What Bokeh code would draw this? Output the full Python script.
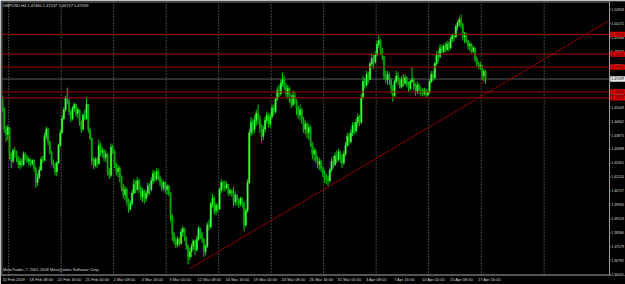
from bokeh.plotting import figure
from bokeh.models import Range1d, Span, Label, FixedTicker
from bokeh.core.properties import value
from bokeh.embed import file_html
from bokeh.resources import INLINE

# ---------------- data ----------------
symbol_title = "GBPUSD,H4 1.47460 1.47537 1.46757 1.47039"
copyright_text = "MetaTrader, \u00a9 2001-2008 MetaQuotes Software Corp."

first_open = 1.4600
closes = [
    1.4540, 1.4420, 1.4390, 1.4430, 1.4270, 1.4240, 1.4300, 1.4290, 1.4260, 1.4220,
    1.4240, 1.4220, 1.4280, 1.4265, 1.4240, 1.4250, 1.4225, 1.4245, 1.4200, 1.4120,
    1.4150, 1.4190, 1.4250, 1.4245, 1.4380, 1.4420, 1.4350, 1.4290, 1.4240, 1.4220,
    1.4180, 1.4230, 1.4330, 1.4400, 1.4480, 1.4530, 1.4600, 1.4580, 1.4520, 1.4480,
    1.4540, 1.4560, 1.4510, 1.4530, 1.4460, 1.4420, 1.4500, 1.4480, 1.4560, 1.4420,
    1.4370, 1.4240, 1.4215, 1.4250, 1.4225, 1.4330, 1.4290, 1.4300, 1.4260, 1.4280,
    1.4180, 1.4160, 1.4320, 1.4300, 1.4220, 1.4180, 1.4200, 1.4150, 1.4090, 1.4050,
    1.4080, 1.4010, 1.3970, 1.4000, 1.4060, 1.4110, 1.4080, 1.4130, 1.4090, 1.4040,
    1.4070, 1.4030, 1.4060, 1.4100, 1.4080, 1.4130, 1.4170, 1.4140, 1.4180, 1.4150,
    1.4120, 1.4090, 1.4120, 1.4080, 1.4100, 1.4060, 1.3930, 1.3830, 1.3790, 1.3770,
    1.3800, 1.3775, 1.3840, 1.3860, 1.3810, 1.3760, 1.3700, 1.3730, 1.3760, 1.3790,
    1.3740, 1.3800, 1.3860, 1.3830, 1.3800, 1.3730, 1.3760, 1.3880, 1.3870, 1.4000,
    1.4030, 1.3960, 1.3990, 1.3970, 1.4080, 1.4120, 1.4100, 1.4090, 1.4110, 1.4060,
    1.4075, 1.4055, 1.4010, 1.4050, 1.4020, 1.4000, 1.4030, 1.4005, 1.3880, 1.3960,
    1.4120, 1.4400, 1.4460, 1.4420, 1.4470, 1.4510, 1.4480, 1.4440, 1.4380, 1.4420,
    1.4470, 1.4500, 1.4450, 1.4490, 1.4540, 1.4520, 1.4590, 1.4640, 1.4620, 1.4680,
    1.4700, 1.4660, 1.4620, 1.4650, 1.4600, 1.4560, 1.4610, 1.4580, 1.4540, 1.4500,
    1.4530, 1.4480, 1.4420, 1.4450, 1.4400, 1.4430, 1.4340, 1.4280, 1.4300, 1.4250,
    1.4220, 1.4240, 1.4200, 1.4170, 1.4150, 1.4140, 1.4130, 1.4190, 1.4240, 1.4220,
    1.4270, 1.4250, 1.4290, 1.4270, 1.4230, 1.4280, 1.4330, 1.4380, 1.4350, 1.4400,
    1.4440, 1.4410, 1.4460, 1.4490, 1.4460, 1.4600, 1.4690, 1.4670, 1.4730, 1.4700,
    1.4790, 1.4820, 1.4800, 1.4840, 1.4900, 1.4920, 1.4860, 1.4830, 1.4720, 1.4700,
    1.4730, 1.4700, 1.4650, 1.4610, 1.4690, 1.4720, 1.4700, 1.4660, 1.4700, 1.4680,
    1.4710, 1.4670, 1.4650, 1.4690, 1.4700, 1.4660, 1.4630, 1.4670, 1.4640, 1.4630,
    1.4620, 1.4640, 1.4615, 1.4630, 1.4690, 1.4730, 1.4710, 1.4790, 1.4840, 1.4830,
    1.4880, 1.4860, 1.4890, 1.4870, 1.4900, 1.4880, 1.4930, 1.4950, 1.4940, 1.5000,
    1.5020, 1.5040, 1.5010, 1.4940, 1.4960, 1.4920, 1.4890, 1.4900, 1.4860, 1.4880,
    1.4820, 1.4790, 1.4770, 1.4780, 1.4720, 1.4746, 1.47039,
]
highs = [
    1.4610, 1.4545, 1.4440, 1.4445, 1.4430, 1.4290, 1.4310, 1.4320, 1.4300, 1.4270,
    1.4260, 1.4255, 1.4295, 1.4290, 1.4275, 1.4262, 1.4255, 1.4250, 1.4250, 1.4210,
    1.4170, 1.4210, 1.4265, 1.4270, 1.4400, 1.4435, 1.4430, 1.4355, 1.4300, 1.4250,
    1.4230, 1.4240, 1.4340, 1.4420, 1.4500, 1.4545, 1.4610, 1.4655, 1.4590, 1.4530,
    1.4550, 1.4570, 1.4565, 1.4545, 1.4530, 1.4470, 1.4510, 1.4530, 1.4597, 1.4560,
    1.4430, 1.4375, 1.4260, 1.4265, 1.4260, 1.4360, 1.4345, 1.4320, 1.4310, 1.4300,
    1.4285, 1.4200, 1.4340, 1.4335, 1.4305, 1.4230, 1.4220, 1.4210, 1.4160, 1.4110,
    1.4100, 1.4090, 1.4030, 1.4020, 1.4080, 1.4140, 1.4130, 1.4150, 1.4140, 1.4100,
    1.4090, 1.4080, 1.4075, 1.4120, 1.4115, 1.4150, 1.4190, 1.4185, 1.4200, 1.4195,
    1.4160, 1.4138, 1.4130, 1.4125, 1.4110, 1.4105, 1.4065, 1.3940, 1.3840, 1.3810,
    1.3815, 1.3810, 1.3860, 1.3875, 1.3865, 1.3815, 1.3770, 1.3750, 1.3775, 1.3800,
    1.3795, 1.3820, 1.3875, 1.3865, 1.3840, 1.3805, 1.3770, 1.3895, 1.3910, 1.4010,
    1.4054, 1.4040, 1.4005, 1.4000, 1.4090, 1.4138, 1.4130, 1.4130, 1.4125, 1.4110,
    1.4085, 1.4080, 1.4095, 1.4070, 1.4045, 1.4030, 1.4040, 1.4035, 1.4010, 1.3975,
    1.4138, 1.4420, 1.4490, 1.4480, 1.4500, 1.4530, 1.4560, 1.4500, 1.4450, 1.4440,
    1.4490, 1.4520, 1.4510, 1.4510, 1.4560, 1.4560, 1.4600, 1.4660, 1.4670, 1.4700,
    1.4740, 1.4720, 1.4680, 1.4670, 1.4660, 1.4620, 1.4640, 1.4630, 1.4590, 1.4550,
    1.4560, 1.4540, 1.4490, 1.4470, 1.4460, 1.4450, 1.4440, 1.4350, 1.4320, 1.4310,
    1.4270, 1.4260, 1.4250, 1.4210, 1.4190, 1.4170, 1.4160, 1.4200, 1.4260, 1.4270,
    1.4290, 1.4300, 1.4310, 1.4300, 1.4280, 1.4300, 1.4350, 1.4400, 1.4400, 1.4420,
    1.4460, 1.4460, 1.4480, 1.4510, 1.4500, 1.4620, 1.4720, 1.4710, 1.4750, 1.4745,
    1.4800, 1.4850, 1.4840, 1.4860, 1.4920, 1.4950, 1.4930, 1.4880, 1.4830, 1.4750,
    1.4750, 1.4740, 1.4710, 1.4670, 1.4700, 1.4750, 1.4740, 1.4710, 1.4720, 1.4730,
    1.4730, 1.4720, 1.4690, 1.4700, 1.4770, 1.4710, 1.4680, 1.4690, 1.4680, 1.4660,
    1.4650, 1.4655, 1.4650, 1.4645, 1.4700, 1.4750, 1.4750, 1.4800, 1.4860, 1.4866,
    1.4900, 1.4895, 1.4900, 1.4910, 1.4920, 1.4915, 1.4940, 1.4961, 1.4960, 1.5010,
    1.5034, 1.5055, 1.5068, 1.5020, 1.4970, 1.4965, 1.4925, 1.4915, 1.4905, 1.4890,
    1.4880, 1.4830, 1.4800, 1.4800, 1.4785, 1.4760, 1.47537,
]
lows = [
    1.4520, 1.4400, 1.4350, 1.4360, 1.4250, 1.4200, 1.4230, 1.4260, 1.4235, 1.4200,
    1.4195, 1.4205, 1.4215, 1.4245, 1.4230, 1.4215, 1.4210, 1.4215, 1.4180, 1.4090,
    1.4100, 1.4140, 1.4185, 1.4230, 1.4240, 1.4360, 1.4330, 1.4280, 1.4220, 1.4200,
    1.4160, 1.4155, 1.4225, 1.4320, 1.4395, 1.4470, 1.4520, 1.4560, 1.4500, 1.4460,
    1.4470, 1.4520, 1.4490, 1.4480, 1.4440, 1.4400, 1.4415, 1.4470, 1.4475, 1.4400,
    1.4360, 1.4220, 1.4195, 1.4205, 1.4200, 1.4220, 1.4270, 1.4260, 1.4240, 1.4235,
    1.4160, 1.4140, 1.4150, 1.4280, 1.4200, 1.4160, 1.4150, 1.4120, 1.4070, 1.4030,
    1.4020, 1.3990, 1.3950, 1.3960, 1.3990, 1.4050, 1.4060, 1.4070, 1.4060, 1.4020,
    1.4010, 1.4000, 1.4010, 1.4040, 1.4050, 1.4070, 1.4110, 1.4120, 1.4130, 1.4130,
    1.4100, 1.4070, 1.4075, 1.4060, 1.4050, 1.4043, 1.3900, 1.3790, 1.3770, 1.3750,
    1.3755, 1.3760, 1.3770, 1.3815, 1.3790, 1.3740, 1.3658, 1.3680, 1.3700, 1.3740,
    1.3710, 1.3730, 1.3790, 1.3800, 1.3780, 1.3700, 1.3710, 1.3750, 1.3850, 1.3860,
    1.3980, 1.3940, 1.3935, 1.3950, 1.3965, 1.4060, 1.4070, 1.4070, 1.4080, 1.4045,
    1.4045, 1.4040, 1.3985, 1.3990, 1.3990, 1.3975, 1.3985, 1.3980, 1.3845, 1.3870,
    1.3950, 1.4110, 1.4380, 1.4390, 1.4400, 1.4440, 1.4450, 1.4400, 1.4350, 1.4360,
    1.4400, 1.4450, 1.4430, 1.4430, 1.4480, 1.4500, 1.4510, 1.4580, 1.4600, 1.4610,
    1.4660, 1.4640, 1.4600, 1.4590, 1.4570, 1.4540, 1.4550, 1.4560, 1.4500, 1.4480,
    1.4470, 1.4450, 1.4400, 1.4390, 1.4370, 1.4360, 1.4320, 1.4250, 1.4240, 1.4230,
    1.4200, 1.4190, 1.4180, 1.4150, 1.4120, 1.4110, 1.4100, 1.4120, 1.4180, 1.4200,
    1.4210, 1.4230, 1.4240, 1.4230, 1.4200, 1.4220, 1.4270, 1.4320, 1.4330, 1.4340,
    1.4380, 1.4390, 1.4400, 1.4430, 1.4440, 1.4450, 1.4590, 1.4650, 1.4660, 1.4680,
    1.4700, 1.4770, 1.4760, 1.4790, 1.4830, 1.4880, 1.4840, 1.4810, 1.4700, 1.4680,
    1.4670, 1.4670, 1.4620, 1.4575, 1.4600, 1.4680, 1.4670, 1.4650, 1.4650, 1.4660,
    1.4670, 1.4660, 1.4630, 1.4640, 1.4680, 1.4640, 1.4610, 1.4620, 1.4620, 1.4610,
    1.4605, 1.4610, 1.4603, 1.4605, 1.4620, 1.4680, 1.4690, 1.4700, 1.4780, 1.4800,
    1.4820, 1.4850, 1.4850, 1.4855, 1.4860, 1.4860, 1.4870, 1.4910, 1.4915, 1.4935,
    1.4980, 1.5000, 1.4990, 1.4920, 1.4905, 1.4905, 1.4870, 1.4860, 1.4850, 1.4850,
    1.4800, 1.4775, 1.4760, 1.4755, 1.4700, 1.4690, 1.46757,
]

date_labels = ["10 Feb 2009", "18 Feb 08:00", "20 Feb 16:00", "25 Feb 00:00",
               "2 Mar 08:00", "4 Mar 16:00", "9 Mar 00:00", "12 Mar 08:00",
               "16 Mar 16:00", "19 Mar 00:00", "24 Mar 08:00", "26 Mar 16:00",
               "31 Mar 00:00", "3 Apr 08:00", "7 Apr 16:00", "10 Apr 00:00",
               "15 Apr 08:00", "17 Apr 16:00"]
date_label_bars = [0, 15.5, 31.5, 47.5, 63.5, 79.5, 95.5, 111.5, 127.5, 143.5,
                   159.5, 175.5, 191.5, 207.5, 223.5, 239.5, 255.5, 271.5]
grid_bars = [3.5, 33.5, 63.5, 93.5, 123.5, 153.5, 183.5, 213.5, 243.5, 273.5, 309.5]

price_ticks = [1.50958, 1.50171, 1.49384, 1.48597, 1.47810, 1.47023, 1.46236,
               1.45449, 1.44662, 1.43875, 1.43088, 1.42301, 1.41514, 1.40727,
               1.39940, 1.39153, 1.38366, 1.37579, 1.36792, 1.36005]

level_prices = [1.49558, 1.48438, 1.47710, 1.46310, 1.45974]
bid_price = 1.47039
trend_bars = [107, 347]
trend_prices = [1.3634, 1.5035]

# ---------------- derived ----------------
n = len(closes)
idx = list(range(n))
opens = [first_open] + closes[:-1]
tops = [max(o, c) for o, c in zip(opens, closes)]
bottoms = [min(o, c) for o, c in zip(opens, closes)]
wick_hi = [max(h, t) for h, t in zip(highs, tops)]
wick_lo = [min(l, b) for l, b in zip(lows, bottoms)]
up = [c >= o for o, c in zip(opens, closes)]

FONT = "Liberation Sans"
FS = "4px"
SCALE_FS = "3.5px"
TXT = "#d8d8d8"
GRAY = "#9a9a9a"

PX_PER_BAR = 1.75
X0 = -0.6
X1 = X0 + 624 / PX_PER_BAR          # frame spans the whole width
SCALE_BAR = X0 + 608 / PX_PER_BAR   # where the price scale begins
TEXT_BAR = SCALE_BAR + 1.0
Y0, Y1 = 1.3595, 1.5141

p = figure(width=625, height=284, output_backend="svg", toolbar_location=None,
           x_range=Range1d(X0, X1), y_range=Range1d(Y0, Y1),
           x_axis_location="below", y_axis_location=None,
           min_border_left=1, min_border_top=1, min_border_right=0, min_border_bottom=0,
           background_fill_color="#000000", border_fill_color="#000000",
           outline_line_color=None)
p.grid.visible = False

# vertical dotted grid
for g in grid_bars:
    p.add_layout(Span(location=g, dimension="height", line_color="#8a8a8a",
                      line_width=1, line_dash="1 2", level="underlay"))
# bid line
p.segment(x0=[X0], x1=[SCALE_BAR], y0=[bid_price], y1=[bid_price],
          line_color="#3c3c3c", line_width=1.5, level="underlay")

# candles
p.segment(x0=idx, y0=wick_lo, x1=idx, y1=wick_hi, line_color="#00d000", line_width=1)
up_i = [i for i in idx if up[i]]
dn_i = [i for i in idx if not up[i]]
p.vbar(x=up_i, width=0.72, top=[tops[i] for i in up_i], bottom=[bottoms[i] for i in up_i],
       fill_color="#44ff44", line_color="#44ff44", line_width=0.5)
p.vbar(x=dn_i, width=0.72, top=[tops[i] for i in dn_i], bottom=[bottoms[i] for i in dn_i],
       fill_color="#00aa00", line_color="#00aa00", line_width=0.5)

# horizontal levels
p.segment(x0=[X0] * len(level_prices), x1=[SCALE_BAR] * len(level_prices),
          y0=level_prices, y1=level_prices, line_color="#a00000", line_width=1)
# trend line
p.line(trend_bars, trend_prices, line_color="#8c0000", line_width=1)

# frame borders (left, top, bottom) and price-scale line
p.add_layout(Span(location=X0 + 0.25, dimension="height", line_color="#6a6a6a", line_width=1))
p.segment(x0=[X0], x1=[SCALE_BAR], y0=[Y1 - 0.0003], y1=[Y1 - 0.0003],
          line_color="#6a6a6a", line_width=1)
p.add_layout(Span(location=SCALE_BAR, dimension="height", line_color=GRAY, line_width=1))
p.segment(x0=[X0], x1=[SCALE_BAR], y0=[Y0 + 0.0003], y1=[Y0 + 0.0003],
          line_color=GRAY, line_width=1)

# price scale: tick marks and labels (kept inside the window)
p.segment(x0=[SCALE_BAR] * len(price_ticks), x1=[SCALE_BAR + 0.6] * len(price_ticks),
          y0=price_ticks, y1=price_ticks, line_color=GRAY, line_width=1)
p.text(x=[TEXT_BAR] * len(price_ticks), y=price_ticks,
       text=[f"{t:.5f}" for t in price_ticks], text_font=value(FONT),
       text_font_size=value(SCALE_FS), text_color=TXT, text_baseline="middle", text_align="left")

# price boxes on the scale
box_h = 0.0030
p.quad(left=[SCALE_BAR + 0.4] * len(level_prices), right=[X1 + 1] * len(level_prices),
       top=[lv + box_h / 2 for lv in level_prices], bottom=[lv - box_h / 2 for lv in level_prices],
       fill_color="#dd0000", line_color=None)
p.text(x=[TEXT_BAR] * len(level_prices), y=level_prices,
       text=[f"{lv:.5f}" for lv in level_prices], text_font=value(FONT),
       text_font_size=value(SCALE_FS), text_color="#2a0000", text_baseline="middle",
       text_align="left")
p.quad(left=[SCALE_BAR + 0.4], right=[X1 + 1], top=[bid_price + box_h / 2],
       bottom=[bid_price - box_h / 2], fill_color="#e8e8e8", line_color=None)
p.text(x=[TEXT_BAR], y=[bid_price], text=[f"{bid_price:.5f}"], text_font=value(FONT),
       text_font_size=value(SCALE_FS), text_color="#000000", text_baseline="middle",
       text_align="left")

# bottom date axis (labels start at their bar, like the terminal)
def text_width_px(s, size=4.0):
    w = 0.0
    for ch in s:
        if ch.isdigit():
            w += 0.556
        elif ch in " :.":
            w += 0.278
        elif ch.isupper():
            w += 0.64
        else:
            w += 0.52
    return w * size

centers = [round(b + text_width_px(t) / 2.0 / PX_PER_BAR, 3)
           for b, t in zip(date_label_bars, date_labels)]
xa = p.xaxis[0]
xa.ticker = FixedTicker(ticks=centers)
xa.major_label_overrides = {c: t for c, t in zip(centers, date_labels)}
xa.axis_line_color = None
xa.major_tick_line_color = None
xa.major_tick_in = 0
xa.major_tick_out = 0
xa.minor_tick_line_color = None
xa.major_label_standoff = 1
xa.major_label_text_font = FONT
xa.major_label_text_font_size = FS
xa.major_label_text_color = TXT

# header and copyright
p.add_layout(Label(x=0.3, y=1.5119, text=symbol_title, text_font=FONT, text_font_size=FS,
                   text_color=TXT, text_baseline="middle", text_align="left"))
p.add_layout(Label(x=0.3, y=1.3629, text=copyright_text, text_font=FONT, text_font_size=FS,
                   text_color=TXT, text_baseline="middle", text_align="left"))

open("out.html", "w").write(file_html(p, INLINE))
